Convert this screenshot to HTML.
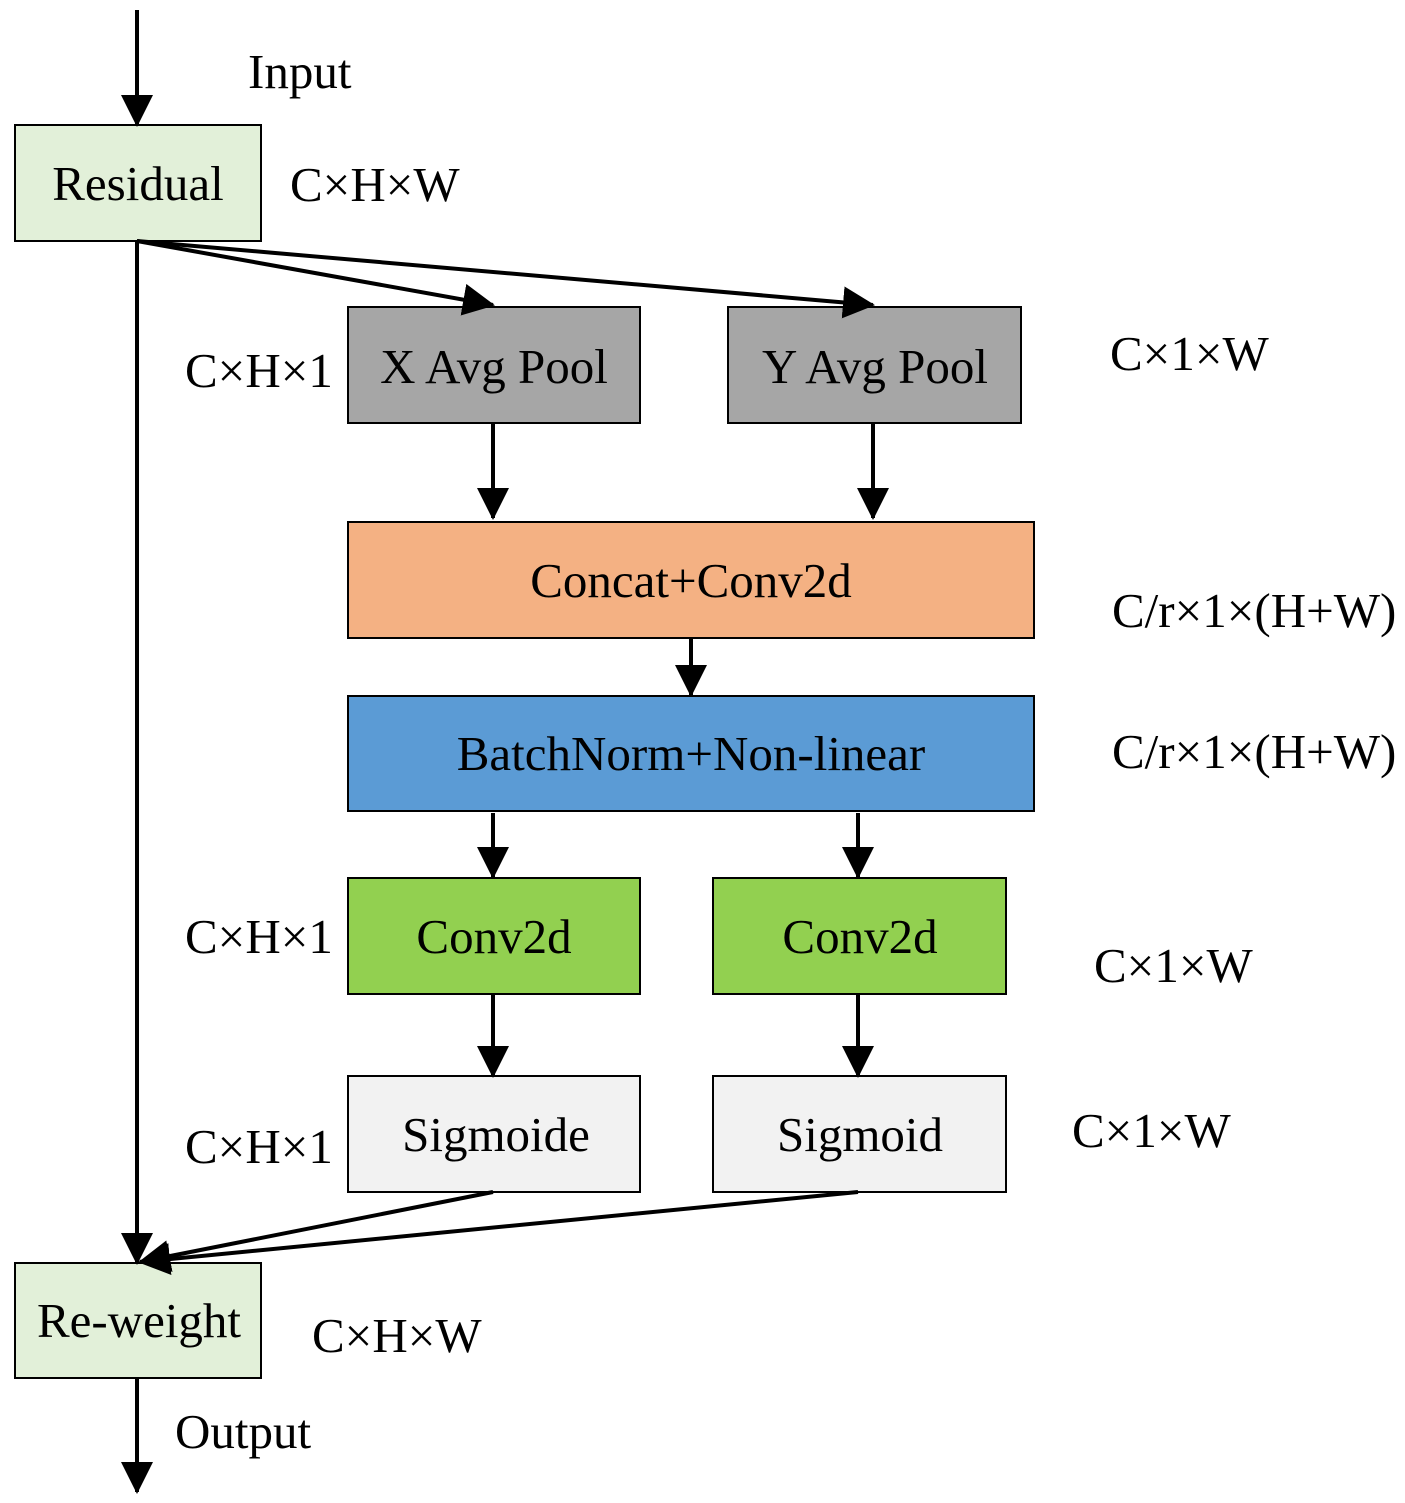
<!DOCTYPE html>
<html><head><meta charset="utf-8"><style>html,body{margin:0;padding:0;background:#fff}svg{display:block}</style></head>
<body>
<svg width="1405" height="1503" viewBox="0 0 1405 1503" xmlns="http://www.w3.org/2000/svg" font-family="Liberation Serif, serif" font-size="49">
<defs>
<marker id="a" markerWidth="8" markerHeight="8" refX="7.5" refY="4" orient="auto" markerUnits="strokeWidth"><path d="M0,0 L8,4 L0,8 z" fill="#000"/></marker>
</defs>
<g stroke="#000" stroke-width="2">
<rect x="15" y="125" width="246" height="116" fill="#E2F0D9"/>
<rect x="348" y="307" width="292" height="116" fill="#A6A6A6"/>
<rect x="728" y="307" width="293" height="116" fill="#A6A6A6"/>
<rect x="348" y="522" width="686" height="116" fill="#F4B183"/>
<rect x="348" y="696" width="686" height="115" fill="#5B9BD5"/>
<rect x="348" y="878" width="292" height="116" fill="#92D050"/>
<rect x="713" y="878" width="293" height="116" fill="#92D050"/>
<rect x="348" y="1076" width="292" height="116" fill="#F2F2F2"/>
<rect x="713" y="1076" width="293" height="116" fill="#F2F2F2"/>
<rect x="15" y="1263" width="246" height="115" fill="#E2F0D9"/>
</g>
<g stroke="#000" stroke-width="4" fill="none" marker-end="url(#a)">
<line x1="137" y1="10" x2="137" y2="125"/>
<line x1="137" y1="241" x2="137" y2="1263"/>
<line x1="137" y1="241" x2="493" y2="305"/>
<line x1="137" y1="241" x2="873" y2="305"/>
<line x1="493" y1="423" x2="493" y2="518"/>
<line x1="873" y1="423" x2="873" y2="518"/>
<line x1="691" y1="638" x2="691" y2="695"/>
<line x1="493" y1="813" x2="493" y2="877"/>
<line x1="858" y1="813" x2="858" y2="877"/>
<line x1="493" y1="994" x2="493" y2="1076"/>
<line x1="858" y1="994" x2="858" y2="1076"/>
<line x1="493" y1="1192" x2="140" y2="1262"/>
<line x1="858" y1="1192" x2="140" y2="1262"/>
<line x1="137" y1="1378" x2="137" y2="1492"/>
</g>
<g text-anchor="middle" fill="#000">
<text x="138" y="200">Residual</text>
<text x="494" y="383">X Avg Pool</text>
<text x="875" y="383">Y Avg Pool</text>
<text x="691" y="597">Concat+Conv2d</text>
<text x="691" y="770">BatchNorm+Non-linear</text>
<text x="494" y="953">Conv2d</text>
<text x="860" y="953">Conv2d</text>
<text x="496" y="1151">Sigmoide</text>
<text x="860" y="1151">Sigmoid</text>
<text x="139" y="1337">Re-weight</text>
</g>
<g fill="#000">
<text x="248" y="88">Input</text>
<text x="290" y="201">C×H×W</text>
<text x="185" y="387">C×H×1</text>
<text x="1110" y="370">C×1×W</text>
<text x="1112" y="627">C/r×1×(H+W)</text>
<text x="1112" y="768">C/r×1×(H+W)</text>
<text x="185" y="953">C×H×1</text>
<text x="1094" y="982">C×1×W</text>
<text x="185" y="1163">C×H×1</text>
<text x="1072" y="1147">C×1×W</text>
<text x="312" y="1352">C×H×W</text>
<text x="175" y="1448">Output</text>
</g>
</svg>
</body></html>
